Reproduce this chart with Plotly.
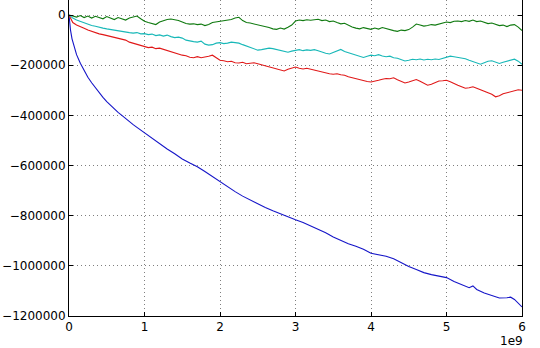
import plotly.graph_objects as go

# x positions in units of 1e9, y values in thousands
t_blue = [0, 0.01, 0.02, 0.04, 0.06, 0.08, 0.1, 0.15, 0.2, 0.25, 0.3, 0.35, 0.4, 0.45, 0.5, 0.55, 0.6, 0.65, 0.7, 0.75,
          0.8, 0.85, 0.9, 0.95, 1.0, 1.1, 1.2, 1.3, 1.4, 1.5, 1.6, 1.7, 1.8, 1.9, 2.0, 2.1, 2.2, 2.3, 2.4, 2.5, 2.6, 2.7,
          2.8, 2.9, 3.0, 3.1, 3.2, 3.3, 3.4, 3.5, 3.6, 3.7, 3.8, 3.9, 4.0, 4.1, 4.2, 4.3, 4.4, 4.5, 4.6, 4.7, 4.8, 4.9,
          5.0, 5.1, 5.2, 5.3, 5.35, 5.4, 5.5, 5.6, 5.7, 5.8, 5.85, 5.9, 6.0]
v_blue = [0, -40, -60, -95, -120, -140, -158, -192, -222, -248, -270, -290, -310, -328, -345, -360, -375, -388, -400, -413,
          -425, -437, -448, -459, -470, -492, -514, -534, -553, -574, -590, -605, -624, -644, -666, -685, -704, -722, -738,
          -753, -767, -780, -793, -805, -816, -827, -840, -855, -868, -885, -900, -912, -922, -934, -950, -955, -962, -972,
          -988, -1003, -1015, -1027, -1035, -1040, -1047, -1062, -1075, -1087, -1080, -1094, -1108, -1118, -1128, -1127,
          -1125, -1134, -1164]

t_step = [i * 0.05 for i in range(121)]  # sampling grid (1e9 units) for the three upper series

v_green = [0, -3, -8, -2, -10, -4, -12, -5, -9, -15, -6, -12, -18, -10, -14, -20, -12, -8, -4, -15,
           -25, -30, -35, -38, -28, -22, -18, -16, -18, -22, -28, -34, -36, -35, -38, -36, -42, -38, -30, -28,
           -24, -22, -20, -18, -12, -9, -22, -30, -32, -35, -40, -44, -47, -50, -55, -57, -52, -56, -49, -40,
           -24, -20, -22, -19, -21, -18, -17, -22, -20, -26, -24, -30, -35, -33, -42, -48, -52, -55, -50, -54,
           -57, -52, -56, -50, -55, -58, -62, -65, -60, -62, -58, -48, -36, -40, -44, -42, -38, -40, -35, -32,
           -28, -30, -25, -24, -26, -22, -25, -20, -26, -24, -30, -34, -32, -38, -42, -40, -46, -40, -38, -48,
           -62]

v_cyan = [0, -12, -20, -26, -32, -36, -42, -45, -50, -52, -55, -58, -60, -64, -66, -68, -70, -72, -70, -75,
          -74, -78, -76, -82, -79, -84, -80, -86, -90, -88, -92, -100, -104, -106, -108, -104, -116, -120, -118, -112,
          -110, -114, -112, -108, -110, -112, -118, -124, -130, -136, -140, -138, -136, -132, -134, -138, -142, -146, -148, -144,
          -140, -138, -142, -139, -141, -138, -142, -148, -152, -155, -150, -145, -137, -145, -150, -156, -160, -166, -169, -164,
          -160, -162, -158, -163, -166, -164, -170, -172, -176, -183, -180, -176, -178, -175, -179, -176, -178, -175, -177, -172,
          -168, -164, -166, -168, -170, -174, -180, -186, -192, -196, -190, -184, -182, -188, -193, -188, -184, -178, -176, -184,
          -196]

v_red = [0, -30, -40, -48, -53, -60, -66, -70, -75, -78, -82, -86, -90, -94, -97, -100, -108, -112, -118, -122,
         -127, -130, -128, -134, -132, -137, -140, -146, -150, -155, -160, -162, -168, -170, -166, -170, -168, -164, -160, -170,
         -180, -182, -186, -184, -190, -191, -188, -194, -192, -190, -194, -198, -202, -206, -210, -213, -218, -223, -216, -210,
         -207, -212, -215, -212, -216, -220, -224, -228, -231, -234, -236, -234, -238, -240, -246, -250, -253, -258, -262, -265,
         -267, -262, -260, -256, -253, -254, -250, -258, -266, -271, -267, -262, -257, -264, -272, -280, -276, -270, -263, -262,
         -260, -266, -274, -280, -286, -292, -290, -286, -292, -298, -302, -307, -316, -326, -322, -314, -310, -306, -302, -298,
         -300]

x_ticks = [0, 1, 2, 3, 4, 5, 6]
x_ticktext = ["0", "1", "2", "3", "4", "5", "6"]
y_ticks = [0, -200000, -400000, -600000, -800000, -1000000, -1200000]
y_ticktext = ["0", "\u2212200000", "\u2212400000", "\u2212600000", "\u2212800000", "\u22121000000", "\u22121200000"]

def sx(ts):
    return [t * 1e9 for t in ts]

def sy(vs):
    return [v * 1000 for v in vs]

fig = go.Figure()
series = [
    (t_blue, v_blue, "#1515c8"),
    (t_step, v_green, "#107a10"),
    (t_step, v_red, "#e01818"),
    (t_step, v_cyan, "#18b8b8"),
]
for ts, vs, c in series:
    fig.add_trace(go.Scatter(x=sx(ts), y=sy(vs), mode="lines",
                             line=dict(color=c, width=1.1), showlegend=False))

axis_common = dict(showline=True, linecolor="black", linewidth=1,
                   ticks="inside", ticklen=4, tickcolor="black",
                   showgrid=True, gridcolor="rgba(0,0,0,0.5)", griddash="1px,3px", gridwidth=1,
                   zeroline=False, tickfont=dict(family="DejaVu Sans", size=12, color="black"))

fig.update_xaxes(range=[0, 6e9], tickvals=[v * 1e9 for v in x_ticks], ticktext=x_ticktext,
                 mirror=False, **axis_common)
fig.update_yaxes(range=[-1200000, 60000], tickvals=y_ticks, ticktext=y_ticktext,
                 mirror="ticks", **axis_common)

fig.add_annotation(text="1e9", xref="paper", yref="paper", x=1.007, y=0, xanchor="right", yanchor="top",
                   yshift=-16, showarrow=False, font=dict(family="DejaVu Sans", size=12, color="black"))

fig.update_layout(width=540, height=348, margin=dict(l=69, r=18, t=0, b=32),
                  plot_bgcolor="white", paper_bgcolor="white")

fig.write_html("out.html")
